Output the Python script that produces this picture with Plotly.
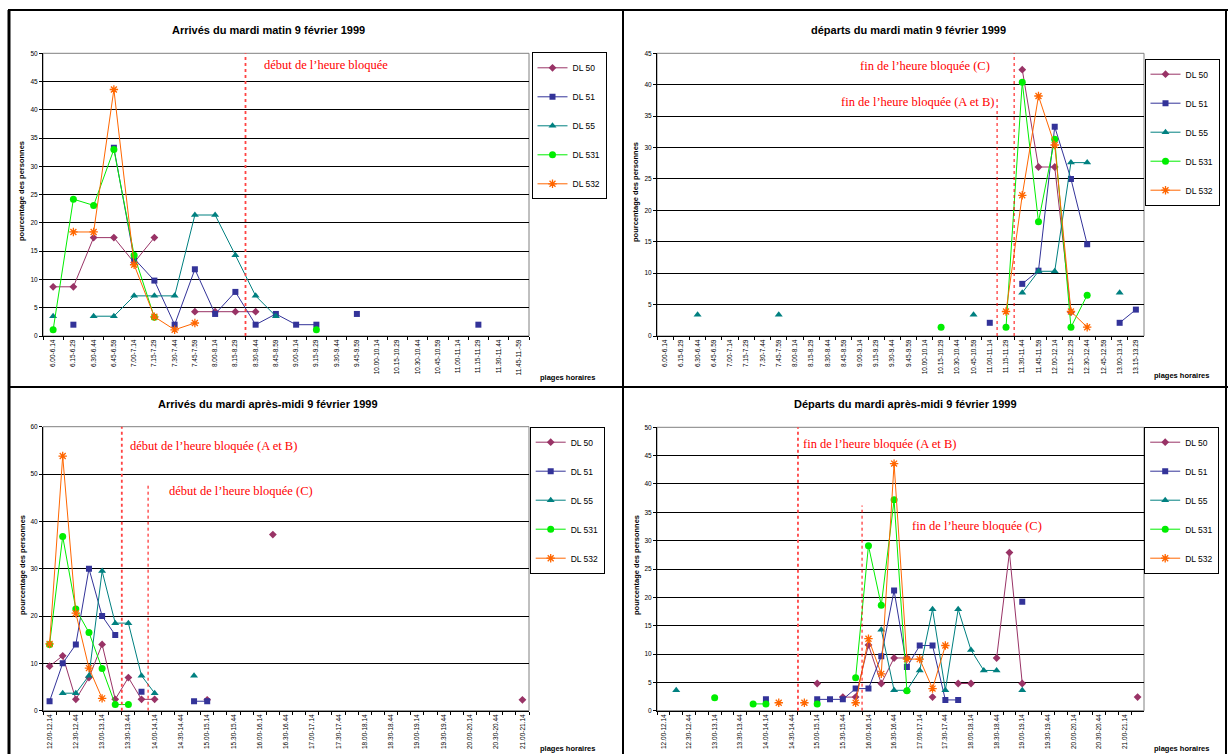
import plotly.graph_objects as go

N = None

# ---------------- categories / tick labels ----------------
cats_p1 = ["6.00-6.14", "6.15-6.29", "6.30-6.44", "6.45-6.59", "7.00-7.14", "7.15-7.29",
           "7.30-7.44", "7.45-7.59", "8.00-8.14", "8.15-8.29", "8.30-8.44", "8.45-8.59",
           "9.00-9.14", "9.15-9.29", "9.30-9.44", "9.45-9.59", "10.00-10.14", "10.15-10.29",
           "10.30-10.44", "10.45-10.59", "11.00-11.14", "11.15-11.29", "11.30-11.44", "11.45-11.-59"]

cats_p2 = ["6.00-6.14", "6.15-6.29", "6.30-6.44", "6.45-6.59", "7.00-7.14", "7.15-7.29",
           "7.30-7.44", "7.45-7.59", "8.00-8.14", "8.15-8.29", "8.30-8.44", "8.45-8.59",
           "9.00-9.14", "9.15-9.29", "9.30-9.44", "9.45-9.59", "10.00-10.14", "10.15-10.29",
           "10.30-10.44", "10.45-10.59", "11.00-11.14", "11.15-11.29", "11.30-11.44", "11.45-11.59",
           "12.00-12.14", "12.15-12.29", "12.30-12.44", "12.45-12.59", "13.00-13.14", "13.15-13.29"]

cats_p3 = ["12.00-12.14", "12.15-12.29", "12.30-12.44", "12.45-12.59", "13.00-13.14", "13.15-13.29",
           "13.30-13.44", "13.45-13.59", "14.00-14.14", "14.15-14.29", "14.30-14.44", "14.45-14.59",
           "15.00-15.14", "15.15-15.29", "15.30-15.44", "15.45-15.59", "16.00-16.14", "16.15-16.29",
           "16.30-16.44", "16.45-16.59", "17.00-17.14", "17.15-17.29", "17.30-17.44", "17.45-17.59",
           "18.00-18.14", "18.15-18.29", "18.30-18.44", "18.45-18.59", "19.00-19.14", "19.15-19.29",
           "19.30-19.44", "19.45-19.59", "20.00-20.14", "20.15-20.29", "20.30-20.44", "20.45-20.59",
           "21.00-21.14"]

cats_p4 = cats_p3 + ["21.15-21.29"]

series_names = ["DL 50", "DL 51", "DL 55", "DL 531", "DL 532"]

# ---------------- Panel 1 : Arrivés du mardi matin ----------------
p1_dl50  = [8.7, 8.7, 17.4, 17.4, 13.0, 17.4, N, 4.3, 4.3, 4.3, 4.3, N, N, N, N, N, N, N, N, N, N, N, N, N]
p1_dl51  = [N, 2.0, N, 33.3, 13.7, 9.8, 2.0, 11.8, 3.9, 7.8, 2.0, 3.9, 2.0, 2.0, N, 3.9, N, N, N, N, N, 2.0, N, N]
p1_dl55  = [3.5, N, 3.5, 3.5, 7.1, 7.1, 7.1, 21.4, 21.4, 14.3, 7.1, 3.5, N, N, N, N, N, N, N, N, N, N, N, N]
p1_dl531 = [1.1, 24.2, 23.1, 33.0, 14.3, 3.3, N, N, N, N, N, N, N, 1.1, N, N, N, N, N, N, N, N, N, N]
p1_dl532 = [N, 18.4, 18.4, 43.6, 12.6, 3.4, 1.1, 2.3, N, N, N, N, N, N, N, N, N, N, N, N, N, N, N, N]

# ---------------- Panel 2 : départs du mardi matin ----------------
p2_dl50  = [N]*22 + [42.4, 26.9, 26.9, 3.8, N, N, N, N]
p2_dl51  = [N]*20 + [2.1, N, 8.3, 10.4, 33.3, 25.0, 14.6, N, 2.1, 4.2]
p2_dl55  = [N, N, 3.4, N, N, N, N, 3.4, N, N, N, N, N, N, N, N, N, N, N, 3.4,
            N, N, 6.9, 10.3, 10.3, 27.6, 27.6, N, 6.9, N]
p2_dl531 = [N]*17 + [1.4, N, N, N, 1.4, 40.4, 18.2, 31.3, 1.4, 6.5, N, N, N]
p2_dl532 = [N]*21 + [3.9, 22.4, 38.2, 30.4, 3.9, 1.4, N, N, N]

# ---------------- Panel 3 : Arrivés du mardi après-midi ----------------
p3_dl50  = [9.4, 11.6, 2.4, 7.0, 14.0, 2.4, 7.0, 2.4, 2.4, N, N, N, 2.3, N, N, N, N, 37.2,
            N, N, N, N, N, N, N, N, N, N, N, N, N, N, N, N, N, N, 2.3]
p3_dl51  = [2.0, 10.0, 14.0, 30.0, 20.0, 16.0, N, 4.0, N, N, N, 2.0, 2.0] + [N]*24
p3_dl55  = [N, 3.7, 3.7, 7.4, 29.5, 18.5, 18.5, 7.4, 3.7, N, N, 7.4] + [N]*25
p3_dl531 = [14.0, 36.8, 21.5, 16.5, 8.9, 1.3, 1.3] + [N]*30
p3_dl532 = [14.1, 53.8, 20.6, 9.0, 2.6] + [N]*32

# ---------------- Panel 4 : Départs du mardi après-midi ----------------
p4_dl50  = [N, N, N, N, N, N, N, N, N, N, N, N, 4.8, N, 2.4, 2.4, 11.6, 4.8, 9.3, 9.3,
            N, 2.4, N, 4.8, 4.8, N, 9.3, 27.9, 4.8, N, N, N, N, N, N, N, N, 2.4]
p4_dl51  = [N, N, N, N, N, N, N, N, 2.0, N, N, N, 2.0, 2.0, 2.0, 3.9, 3.9, 9.6, 21.2, 7.7,
            11.5, 11.5, 1.9, 1.9, N, N, N, N, 19.2, N, N, N, N, N, N, N, N, N]
p4_dl55  = [N, 3.6, N, N, N, N, N, N, N, N, N, N, N, N, N, N, N, 14.3, 3.6, 3.6,
            7.1, 17.9, 3.6, 17.9, 10.7, 7.1, 7.1, N, 3.6, N, N, N, N, N, N, N, N, N]
p4_dl531 = [N, N, N, N, 2.3, N, N, 1.2, 1.2, N, N, N, 1.2, N, N, 5.8, 29.1, 18.6, 37.2, 3.5] + [N]*18
p4_dl532 = [N, N, N, N, N, N, N, N, N, 1.4, N, 1.4, N, N, N, 1.4, 12.7, 6.5, 43.6, 9.1,
            9.1, 3.9, 11.5] + [N]*15

titles = ["Arrivés du mardi matin 9 février 1999",
          "départs du mardi matin 9 février 1999",
          "Arrivés du mardi après-midi 9 février 1999",
          "Départs du mardi après-midi 9 février 1999"]

# ---------------- styling ----------------
W, H = 1228, 754
SANS = "Liberation Sans, Arial, sans-serif"
SERIF = "Liberation Serif, Times New Roman, serif"
RED = "#FF0000"

styles = {
    "DL 50":  dict(color="#993366", symbol="diamond", size=6),
    "DL 51":  dict(color="#333399", symbol="square", size=6),
    "DL 55":  dict(color="#008080", symbol="triangle-up", size=7),
    "DL 531": dict(color="#00EE00", symbol="circle", size=7),
    "DL 532": dict(color="#FF6600", symbol="asterisk-open", size=7),
}

def px_x(p):
    return p / W

def px_y(p):
    return 1 - p / H

panels = [
    dict(cats=cats_p1, data=[p1_dl50, p1_dl51, p1_dl55, p1_dl531, p1_dl532],
         xd=(43, 529), yd=(53.3, 336), yr=50, dt=5, every=1),
    dict(cats=cats_p2, data=[p2_dl50, p2_dl51, p2_dl55, p2_dl531, p2_dl532],
         xd=(657, 1144), yd=(53.3, 336), yr=45, dt=5, every=1),
    dict(cats=cats_p3, data=[p3_dl50, p3_dl51, p3_dl55, p3_dl531, p3_dl532],
         xd=(43, 529), yd=(426.7, 710.7), yr=60, dt=10, every=2),
    dict(cats=cats_p4, data=[p4_dl50, p4_dl51, p4_dl55, p4_dl531, p4_dl532],
         xd=(657, 1144), yd=(427.3, 710.7), yr=50, dt=5, every=2),
]

fig = go.Figure()
layout_axes = {}
for i, p in enumerate(panels):
    k = "" if i == 0 else str(i + 1)
    leg = "legend" if i == 0 else "legend" + str(i + 1)
    for name, vals in zip(series_names, p["data"]):
        st = styles[name]
        if st["symbol"].endswith("open"):
            mk = dict(symbol=st["symbol"], size=st["size"], color=st["color"],
                      line=dict(color=st["color"], width=1.3))
        else:
            mk = dict(symbol=st["symbol"], size=st["size"], color=st["color"],
                      line=dict(width=0))
        fig.add_trace(go.Scatter(
            x=p["cats"], y=vals, name=name, mode="lines+markers",
            line=dict(color=st["color"], width=1), marker=mk,
            xaxis="x" + k, yaxis="y" + k, legend=leg,
            legendgroup="p%d_%s" % (i, name), connectgaps=False))
    ticktext = [c if (j % p["every"] == 0) else "" for j, c in enumerate(p["cats"])]
    layout_axes["xaxis" + k] = dict(
        domain=[px_x(p["xd"][0]), px_x(p["xd"][1])], anchor="y" + k,
        type="category", categoryorder="array", categoryarray=p["cats"],
        tickmode="array", tickvals=p["cats"], ticktext=ticktext,
        range=[-0.5, len(p["cats"]) - 0.5],
        tickangle=-90, tickfont=dict(size=6.5, family=SANS, color="black"),
        ticks="outside", ticklen=3, tickcolor="black", tickson="boundaries",
        showline=True, linecolor="black", linewidth=1, showgrid=False,
        zeroline=False, automargin=False, fixedrange=True)
    layout_axes["yaxis" + k] = dict(
        domain=[px_y(p["yd"][1]), px_y(p["yd"][0])], anchor="x" + k,
        range=[0, p["yr"]], dtick=p["dt"], tick0=0,
        tickfont=dict(size=6.5, family=SANS, color="black"),
        ticks="outside", ticklen=3, tickcolor="black",
        showline=True, linecolor="black", linewidth=1,
        showgrid=True, gridcolor="black", gridwidth=1,
        zeroline=False, automargin=False, fixedrange=True)

shapes = []
annotations = []

# plot-area frames (grey)
for i in range(4):
    k = "" if i == 0 else str(i + 1)
    shapes.append(dict(type="rect", xref="x%s domain" % k, yref="y%s domain" % k,
                       x0=0, x1=1, y0=0, y1=1, line=dict(color="#808080", width=1),
                       layer="below"))

# chart frames (black)
frame = dict(color="black", width=2)
shapes += [
    dict(type="line", xref="paper", yref="paper", x0=px_x(8), x1=px_x(1228), y0=px_y(10), y1=px_y(10), line=frame),
    dict(type="line", xref="paper", yref="paper", x0=px_x(8), x1=px_x(1228), y0=px_y(387), y1=px_y(387), line=frame),
    dict(type="line", xref="paper", yref="paper", x0=px_x(9), x1=px_x(9), y0=px_y(10), y1=0, line=dict(color="black", width=3)),
    dict(type="line", xref="paper", yref="paper", x0=px_x(623), x1=px_x(623), y0=px_y(10), y1=0, line=frame),
    dict(type="line", xref="paper", yref="paper", x0=px_x(1226), x1=px_x(1226), y0=px_y(10), y1=0, line=frame),
]

# red "heure bloquée" markers (x in category index units)
def vline(k, x, ytop=None, width=1.0, color=RED):
    if ytop is None:
        return dict(type="line", xref="x" + k, yref="y%s domain" % k, x0=x, x1=x, y0=0, y1=1.0,
                    line=dict(color=color, width=width, dash="dot"))
    return dict(type="line", xref="x" + k, yref="y" + k, x0=x, x1=x, y0=0, y1=ytop,
                line=dict(color=color, width=width, dash="dot"))

shapes += [
    vline("", 9.5, width=1.8, color="#FF4444"),
    vline("2", 20.45, ytop=38.0),
    vline("2", 21.5),
    vline("3", 5.5, width=1.8, color="#FF4444"),
    vline("3", 7.5, ytop=48.0),
    vline("4", 10.5, width=1.8, color="#FF4444"),
    vline("4", 15.5, ytop=36.2),
]

def note(text, x, y, size=12.5, color=RED, family=SERIF, bold=False, angle=0, xanchor="left"):
    return dict(text=("<b>%s</b>" % text) if bold else text, xref="paper", yref="paper",
                x=px_x(x), y=px_y(y), xanchor=xanchor, yanchor="middle", showarrow=False,
                textangle=angle, font=dict(family=family, size=size, color=color))

annotations += [
    note("début de l’heure bloquée", 262, 65),
    note("fin de l’heure bloquée (C)", 858, 66),
    note("fin de l’heure bloquée (A et B)", 839, 101.7),
    note("début de l’heure bloquée (A et B)", 128, 446),
    note("début de l’heure bloquée (C)", 166.5, 490.7),
    note("fin de l’heure bloquée (A et B)", 801, 444),
    note("fin de l’heure bloquée (C)", 910, 525.7),
]

# chart titles
for t, cx, cy in zip(titles, [268, 908, 268, 905], [30, 30, 404, 404]):
    annotations.append(note(t, cx, cy, size=11, color="black", family=SANS, bold=True, xanchor="center"))

# y-axis titles
for cx, cy in [(22, 191), (636, 192), (22, 565), (636, 565)]:
    annotations.append(note("pourcentage des personnes", cx, cy, size=7.5, color="black",
                            family=SANS, bold=True, angle=-90, xanchor="center"))

# x-axis titles
for cx, cy in [(567, 377), (1181, 376), (567, 748), (1181, 748)]:
    annotations.append(note("plages horaires", cx, cy, size=7.5, color="black",
                            family=SANS, bold=True, xanchor="center"))

# legend box centres (reference pixels)
legend_pos = [(569, 52.3), (1182, 58.7), (567.2, 426.7), (1181.7, 426.7)]
legends = {}
for i, (lx, ly) in enumerate(legend_pos):
    key = "legend" if i == 0 else "legend" + str(i + 1)
    legends[key] = dict(x=px_x(lx), y=px_y(ly), xanchor="center", yanchor="top",
                        xref="paper", yref="paper",
                        bgcolor="white", bordercolor="black", borderwidth=1,
                        font=dict(family=SANS, size=8.5, color="black"),
                        tracegroupgap=10, itemwidth=30, traceorder="grouped")

fig.update_layout(
    width=W, height=H, margin=dict(l=0, r=0, t=0, b=0),
    paper_bgcolor="white", plot_bgcolor="white",
    font=dict(family=SANS, color="black"),
    showlegend=True, shapes=shapes, annotations=annotations,
    **layout_axes, **legends,
)

fig.write_html("out.html", config={"displayModeBar": False},
               post_script="document.body.style.margin='0';document.body.style.overflow='hidden';")
